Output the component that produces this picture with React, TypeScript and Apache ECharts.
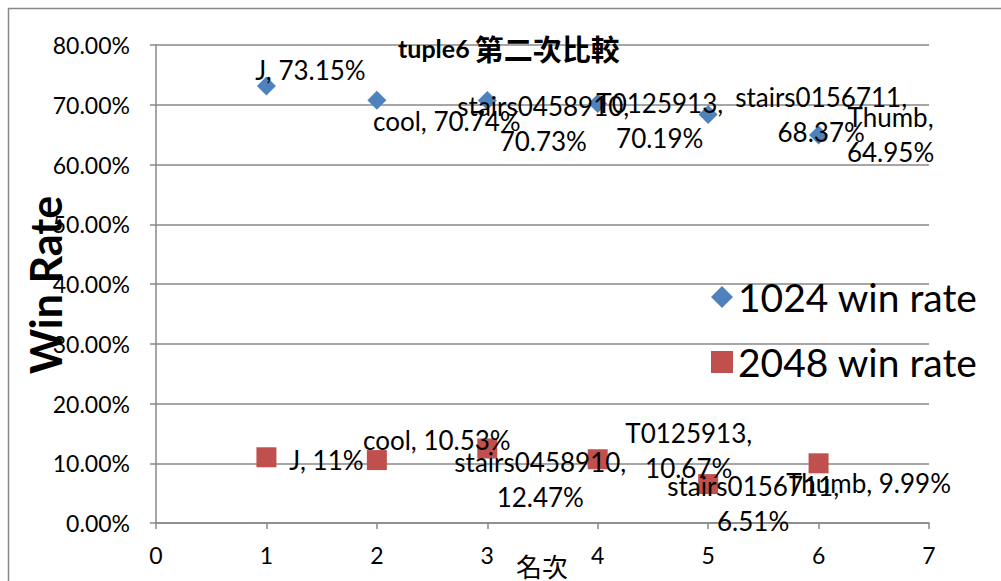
import React, { useEffect, useRef } from "react";
import * as echarts from "echarts";

const ranks = [1, 2, 3, 4, 5, 6];
const players = ["J", "cool", "stairs0458910", "T0125913", "stairs0156711", "Thumb"];
const rate1024 = [73.15, 70.74, 70.73, 70.19, 68.37, 64.95];
const rate2048 = [11, 10.53, 12.47, 10.67, 6.51, 9.99];
const seriesNames = ["1024 win rate", "2048 win rate"];
const xTicks = [0, 1, 2, 3, 4, 5, 6, 7];

// label placement (style only)
const lab1024 = [
  { dx: 44, dy: -16, wrap: false },
  { dx: 70, dy: 21, wrap: false },
  { dx: 56, dy: 23, wrap: true },
  { dx: 62, dy: 17, wrap: true },
  { dx: 113, dy: 0, wrap: true },
  { dx: 72, dy: 0, wrap: true },
];
const lab2048 = [
  { dx: 60, dy: 3, wrap: false },
  { dx: 60, dy: -20, wrap: false },
  { dx: 53, dy: 31, wrap: true },
  { dx: 91, dy: -9, wrap: true },
  { dx: 45, dy: 19, wrap: true },
  { dx: 50, dy: 20, wrap: false },
];

const FONT = "Lato, 'Noto Sans CJK TC', sans-serif";
const GRID_COLOR = "#888888";

function buildData(values: number[], layout: { dx: number; dy: number; wrap: boolean }[]) {
  return ranks.map((r, i) => ({
    name: players[i],
    value: [r, values[i]],
    label: {
      show: true,
      position: "inside",
      offset: [layout[i].dx, layout[i].dy],
      formatter: players[i] + "," + (layout[i].wrap ? "\n" : " ") + String(values[i]) + "%",
    },
  }));
}

export default function App() {
  const ref = useRef<HTMLDivElement>(null);
  useEffect(() => {
    if (!ref.current) return;
    const chart = echarts.init(ref.current, undefined, { renderer: "svg" });
    const labelStyle = {
      color: "#000",
      fontFamily: FONT,
      fontSize: 26,
      lineHeight: 35,
      align: "center",
      verticalAlign: "middle",
    };
    chart.setOption({
      animation: false,
      backgroundColor: "#fff",
      title: {
        text: "{b|tuple6} {n|第二次比較}",
        left: 393,
        top: 28,
        textStyle: {
          rich: {
            b: { fontFamily: FONT, fontWeight: "bold", fontSize: 25, color: "#000" },
            n: { fontFamily: "'Noto Sans CJK TC', sans-serif", fontSize: 29, color: "#000" },
          },
        },
      },
      grid: { left: 156, right: 72, top: 45, bottom: 58 },
      legend: {
        orient: "vertical",
        left: 706,
        top: 270,
        itemWidth: 22,
        itemHeight: 22,
        itemGap: 21,
        textStyle: { fontFamily: FONT, fontSize: 39, color: "#000", lineHeight: 44 },
        data: [
          { name: seriesNames[0], icon: "diamond" },
          { name: seriesNames[1], icon: "rect" },
        ],
      },
      xAxis: {
        type: "value",
        min: 0,
        max: 7,
        interval: 1,
        splitLine: { show: false },
        axisLine: { show: true, lineStyle: { color: GRID_COLOR, width: 1.5 } },
        axisTick: { show: true, length: 6, lineStyle: { color: GRID_COLOR, width: 1.5 } },
        axisLabel: {
          color: "#000",
          fontFamily: FONT,
          fontSize: 23,
          margin: 20,
          formatter: (v: number) => (xTicks.includes(v) ? String(v) : ""),
        },
      },
      yAxis: {
        type: "value",
        min: 0,
        max: 80,
        interval: 10,
        splitLine: { show: true, lineStyle: { color: GRID_COLOR, width: 1.5 } },
        axisLine: { show: true, lineStyle: { color: GRID_COLOR, width: 1.5 } },
        axisTick: { show: true, length: 6, lineStyle: { color: GRID_COLOR, width: 1.5 } },
        axisLabel: {
          color: "#000",
          fontFamily: FONT,
          fontSize: 23,
          margin: 26,
          formatter: (v: number) => v.toFixed(2) + "%",
        },
      },
      graphic: [
        {
          type: "rect",
          shape: { x: 8.5, y: 8.5, width: 1200, height: 800 },
          style: { fill: "none", stroke: GRID_COLOR, lineWidth: 1.5 },
          silent: true,
        },
        {
          type: "text",
          x: 45,
          y: 285,
          rotation: Math.PI / 2,
          style: {
            text: "Win Rate",
            fontFamily: FONT,
            fontWeight: "bold",
            fontSize: 43,
            fill: "#000",
            align: "center",
            verticalAlign: "middle",
          },
        },
        {
          type: "text",
          x: 542,
          y: 565,
          style: {
            text: "名次",
            fontFamily: "'Noto Sans CJK TC', sans-serif",
            fontSize: 26,
            fill: "#000",
            align: "center",
            verticalAlign: "middle",
          },
        },
      ],
      series: [
        {
          name: seriesNames[0],
          type: "scatter",
          symbol: "diamond",
          symbolSize: 19,
          itemStyle: { color: "#4F81BD", opacity: 1 },
          label: labelStyle,
          data: buildData(rate1024, lab1024),
        },
        {
          name: seriesNames[1],
          type: "scatter",
          symbol: "rect",
          symbolSize: 20,
          itemStyle: { color: "#C0504D", opacity: 1 },
          label: labelStyle,
          data: buildData(rate2048, lab2048),
        },
      ],
    });
    return () => chart.dispose();
  }, []);
  return (
    <div
      ref={ref}
      style={{ position: "absolute", left: 0, top: 0, width: 1001, height: 581 }}
    />
  );
}
